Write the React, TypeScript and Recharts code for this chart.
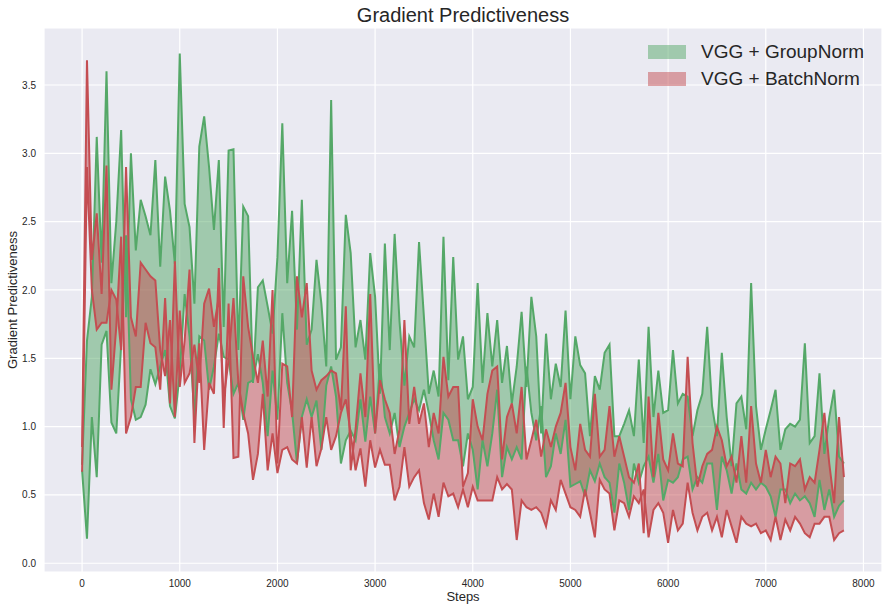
import React from 'react';
import { ComposedChart, Area, Line, XAxis, YAxis, CartesianGrid } from 'recharts';

// one sample every 50 steps, 0..7800
const stepSize = 50;

// VGG + GroupNorm, two runs
const groupNormA = [
  0.68, 0.18, 1.07, 0.63, 1.6, 1.7, 1.03, 0.95, 1.6, 2.4, 1.2, 1.05, 1.07, 1.16, 1.42, 1.31, 1.44, 1.56, 1.15, 1.06,
  1.39, 1.97, 1.66, 1.07, 1.66, 1.63, 1.27, 1.44, 1.68, 1.51, 1.49, 1.24, 1.32, 1.05, 1.32, 1.34, 1.53, 1.32, 0.93, 1.41,
  1.05, 1.83, 1.32, 1.11, 0.73, 1.07, 1.2, 1.07, 1.19, 0.83, 1.3, 1.44, 1.22, 0.73, 0.9, 0.97, 0.9, 1.2, 0.89, 1.22,
  0.95, 1.46, 1.07, 0.95, 1.1, 0.85, 1.0, 1.1, 1.2, 1.12, 1.27, 1.1, 0.9, 0.76, 1.1, 1.05, 0.9, 0.9, 0.71, 0.95,
  0.83, 0.54, 0.9, 0.71, 0.95, 1.27, 0.63, 0.85, 0.76, 0.85, 0.76, 1.44, 1.1, 0.9, 1.15, 0.63, 0.71, 0.95, 0.8, 1.05,
  0.56, 0.58, 0.6, 0.49, 0.68, 0.6, 0.73, 0.63, 0.59, 0.37, 0.73, 0.59, 0.39, 0.73, 0.59, 0.71, 0.78, 0.59, 0.8, 0.46,
  0.61, 0.59, 0.63, 0.76, 0.78, 0.54, 0.63, 0.59, 0.73, 0.73, 0.39, 0.78, 0.68, 0.51, 0.73, 0.54, 0.51, 0.59, 0.54, 0.59,
  0.56, 0.49, 0.34, 0.54, 0.54, 0.44, 0.51, 0.46, 0.49, 0.44, 0.34, 0.61, 0.39, 0.54, 0.34, 0.42, 0.46,
];
const groupNormB = [
  0.72, 1.63, 1.95, 3.12, 2.2, 3.6, 2.05, 2.5, 3.17, 1.8, 3.0, 2.29, 2.66, 2.54, 2.4, 2.95, 2.17, 2.83, 2.58, 2.19,
  3.73, 2.63, 2.46, 1.9, 3.05, 3.27, 2.9, 2.44, 2.95, 1.73, 3.02, 3.03, 1.56, 2.61, 2.54, 1.32, 2.02, 2.07, 1.88, 1.68,
  2.24, 3.22, 2.05, 2.58, 1.71, 2.66, 1.6, 1.71, 2.22, 1.9, 1.44, 3.39, 1.49, 1.58, 2.55, 2.27, 1.58, 1.78, 1.49, 2.27,
  1.95, 1.24, 2.34, 1.56, 2.41, 1.77, 1.3, 1.66, 1.58, 2.35, 1.8, 1.24, 1.41, 1.22, 2.39, 1.34, 2.24, 1.49, 1.66, 1.2,
  1.29, 2.05, 1.32, 1.83, 1.44, 1.78, 1.32, 1.59, 1.17, 1.44, 1.84, 1.29, 1.95, 1.66, 0.95, 1.68, 1.2, 1.46, 1.29, 1.85,
  1.2, 1.66, 1.45, 1.39, 0.93, 1.37, 1.27, 1.54, 1.6, 0.93, 0.93, 1.02, 1.12, 0.93, 1.49, 0.88, 1.73, 1.07, 1.41, 1.1,
  1.12, 1.56, 1.17, 1.24, 1.22, 0.93, 1.12, 1.24, 1.73, 1.15, 0.93, 1.54, 1.07, 0.71, 1.17, 1.22, 0.98, 2.05, 1.15, 0.83,
  0.98, 1.12, 1.27, 0.83, 0.98, 1.02, 1.0, 1.05, 1.61, 0.88, 0.93, 1.39, 0.8, 1.07, 1.27, 0.78, 0.73,
];

// VGG + BatchNorm, two runs
const batchNormA = [
  0.85, 3.68, 2.22, 2.56, 1.97, 2.91, 1.27, 1.73, 2.39, 0.95, 1.07, 1.29, 1.29, 1.76, 1.61, 1.58, 1.27, 1.94, 1.17, 2.21,
  1.29, 1.63, 2.15, 0.88, 1.61, 0.83, 1.32, 1.24, 2.16, 0.99, 1.9, 0.77, 0.78, 2.1, 1.73, 1.51, 1.32, 1.63, 1.22, 2.0,
  0.73, 1.46, 1.44, 1.07, 2.1, 1.8, 2.05, 1.41, 1.27, 1.34, 1.37, 1.41, 1.39, 1.12, 1.88, 0.68, 0.98, 1.39, 1.07, 1.97,
  0.95, 1.34, 1.2, 1.1, 0.8, 0.98, 1.78, 1.02, 1.29, 1.02, 1.17, 0.85, 1.1, 0.95, 1.51, 1.22, 1.29, 1.29, 0.56, 0.66,
  1.2, 1.0, 0.9, 1.24, 1.41, 1.44, 0.76, 1.07, 1.17, 0.95, 1.29, 0.76, 0.9, 1.05, 0.78, 0.98, 0.85, 1.0, 1.1, 1.32,
  0.85, 0.68, 1.02, 0.83, 0.78, 1.24, 0.78, 0.83, 1.15, 0.78, 0.93, 0.78, 0.63, 0.59, 0.73, 0.22, 1.22, 0.63, 1.1, 0.76,
  0.68, 0.95, 0.73, 0.71, 1.51, 0.88, 0.56, 0.71, 0.8, 0.83, 1.0, 0.9, 0.71, 0.78, 0.59, 0.93, 0.59, 1.15, 0.73, 0.59,
  0.83, 0.63, 0.78, 0.73, 0.44, 0.73, 0.71, 0.76, 0.54, 0.63, 0.59, 0.83, 1.1, 0.73, 0.44, 1.07, 0.63,
];
const batchNormB = [
  0.67, 2.9, 2.0, 1.71, 1.76, 1.76, 2.0, 1.93, 1.56, 2.9, 1.8, 1.66, 2.2, 2.15, 2.1, 2.07, 1.56, 1.37, 1.78, 1.07,
  1.85, 1.32, 1.39, 1.6, 1.32, 1.9, 2.01, 1.73, 1.95, 1.2, 1.49, 1.94, 1.32, 1.1, 0.95, 0.61, 0.8, 1.24, 0.68, 0.95,
  0.66, 0.83, 0.85, 0.76, 0.73, 1.07, 0.7, 1.07, 0.71, 0.84, 1.07, 0.83, 0.93, 1.1, 1.2, 0.95, 0.68, 0.84, 0.56, 0.9,
  0.7, 0.83, 0.72, 0.72, 0.46, 0.56, 0.85, 0.56, 0.63, 0.68, 0.44, 0.32, 0.51, 0.34, 0.59, 0.49, 0.51, 0.41, 0.54, 0.41,
  0.56, 0.46, 0.46, 0.46, 0.46, 0.63, 0.54, 0.58, 0.54, 0.17, 0.46, 0.41, 0.39, 0.41, 0.37, 0.27, 0.46, 0.39, 0.61, 0.51,
  0.41, 0.39, 0.34, 0.54, 0.37, 0.19, 0.61, 0.54, 0.51, 0.24, 0.46, 0.44, 0.34, 0.49, 0.44, 0.54, 0.19, 0.39, 0.44, 0.37,
  0.15, 0.39, 0.24, 0.29, 0.59, 0.37, 0.24, 0.34, 0.37, 0.24, 0.34, 0.19, 0.39, 0.27, 0.15, 0.34, 0.29, 0.27, 0.29, 0.22,
  0.24, 0.17, 0.34, 0.17, 0.32, 0.24, 0.34, 0.29, 0.22, 0.19, 0.29, 0.29, 0.34, 0.34, 0.17, 0.22, 0.24,
];

const xTicks = [0, 1000, 2000, 3000, 4000, 5000, 6000, 7000, 8000];
const yTicks = [0, 0.5, 1, 1.5, 2, 2.5, 3, 3.5];

const GREEN = '#55A868';
const RED = '#C44E52';
const FONT = '"Liberation Sans", Arial, sans-serif';

const data = groupNormA.map((v, i) => ({
  step: i * stepSize,
  gA: v,
  gB: groupNormB[i],
  rA: batchNormA[i],
  rB: batchNormB[i],
}));

function YLabel(props: any) {
  const vb = props.viewBox || { x: 0, y: 28, width: 44, height: 544 };
  const cx = 12;
  const cy = vb.y + vb.height / 2;
  return (
    <text x={cx} y={cy} transform={`rotate(-90 ${cx} ${cy})`} textAnchor="middle"
      dominantBaseline="central" fontSize={13} fill="#262626" fontFamily={FONT}>
      Gradient Predictiveness
    </text>
  );
}

export default function App() {
  const tick = { fontSize: 10, fill: '#262626', fontFamily: FONT };
  return (
    <div style={{ position: 'absolute', left: 0, top: 0, width: 888, height: 612, background: '#fff', fontFamily: FONT }}>
      <ComposedChart width={888} height={612} data={data} margin={{ top: 28, right: 6, bottom: 0, left: 0 }}>
        <CartesianGrid fill="#EAEAF2" stroke="#ffffff" strokeWidth={1.2} />
        <XAxis type="number" dataKey="step" domain={[-390, 8190]} ticks={xTicks} allowDataOverflow
          axisLine={false} tickLine={false} height={40} tick={tick}
          label={{ value: 'Steps', position: 'insideBottom', offset: 11, fontSize: 13, fill: '#262626', fontFamily: FONT }} />
        <YAxis type="number" domain={[-0.064, 3.917]} ticks={yTicks} allowDataOverflow
          axisLine={false} tickLine={false} width={44} tick={tick}
          tickFormatter={(v: number) => v.toFixed(1)}
          label={{ content: (p: any) => <YLabel {...p} /> }} />
        <Area type="linear" dataKey={(d: any) => [d.gA, d.gB]} stroke="none" fill={GREEN} fillOpacity={0.5} isAnimationActive={false} />
        <Area type="linear" dataKey={(d: any) => [d.rA, d.rB]} stroke="none" fill={RED} fillOpacity={0.5} isAnimationActive={false} />
        <Line type="linear" dataKey="gA" stroke={GREEN} strokeWidth={2} dot={false} isAnimationActive={false} />
        <Line type="linear" dataKey="gB" stroke={GREEN} strokeWidth={2} dot={false} isAnimationActive={false} />
        <Line type="linear" dataKey="rA" stroke={RED} strokeWidth={2} dot={false} isAnimationActive={false} />
        <Line type="linear" dataKey="rB" stroke={RED} strokeWidth={2} dot={false} isAnimationActive={false} />
      </ComposedChart>
      <div style={{ position: 'absolute', left: 44, width: 838, top: 5, height: 20, lineHeight: '20px', textAlign: 'center', fontSize: 20, color: '#262626' }}>
        Gradient Predictiveness
      </div>
      {[
        { label: 'VGG + GroupNorm', color: GREEN, top: 45 },
        { label: 'VGG + BatchNorm', color: RED, top: 71.5 },
      ].map((item) => (
        <div key={item.label} style={{ position: 'absolute', left: 648, top: item.top, height: 14, display: 'flex', alignItems: 'center' }}>
          <div style={{ width: 38, height: 14, background: item.color, opacity: 0.5 }} />
          <div style={{ marginLeft: 15, fontSize: 19, lineHeight: '14px', color: '#262626', whiteSpace: 'nowrap' }}>{item.label}</div>
        </div>
      ))}
    </div>
  );
}
